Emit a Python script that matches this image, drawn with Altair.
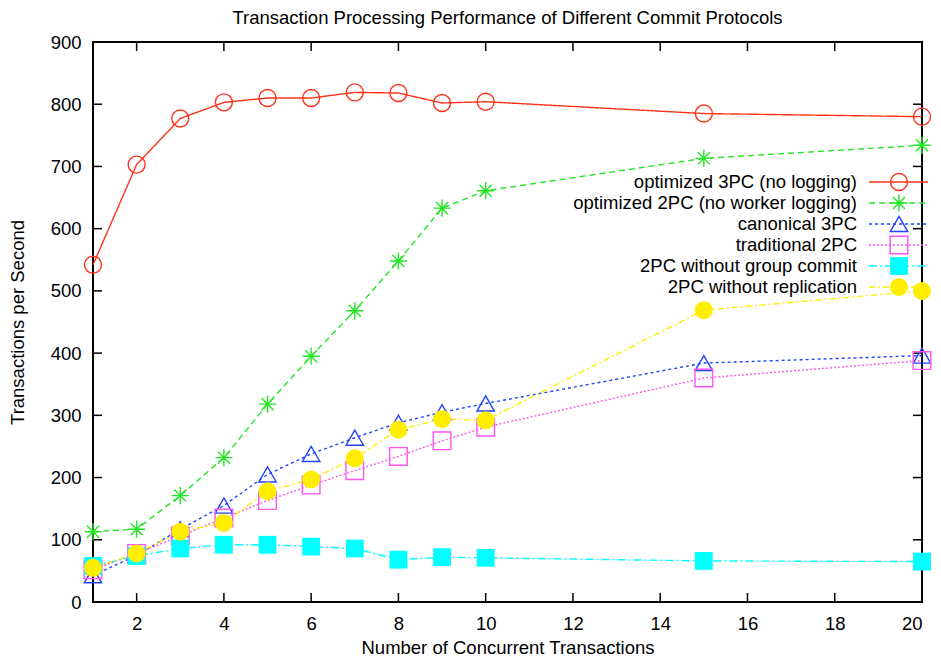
import altair as alt
import pandas as pd

# ---------------- data ----------------
x_values = [1, 2, 3, 4, 5, 6, 7, 8, 9, 10, 15, 20]
series_names = [
    "optimized 3PC (no logging)",
    "optimized 2PC (no worker logging)",
    "canonical 3PC",
    "traditional 2PC",
    "2PC without group commit",
    "2PC without replication",
]
opt3pc = [542, 703, 777, 803, 810, 810, 819, 818, 802, 804, 785, 780]
opt2pc = [113, 117, 171, 232, 318, 395, 468, 548, 633, 661, 713, 734]
canon3pc = [43, 75, 117, 155, 205, 238, 264, 288, 305, 319, 384, 396]
trad2pc = [52, 78, 106, 135, 163, 188, 211, 234, 259, 281, 360, 388]
nogroup = [58, 74, 86, 92, 92, 89, 86, 68, 72, 71, 66, 65]
norepl = [55, 78, 113, 127, 178, 197, 231, 277, 294, 292, 469, 500]
y_ticks = [0, 100, 200, 300, 400, 500, 600, 700, 800, 900]
x_ticks = [2, 4, 6, 8, 10, 12, 14, 16, 18, 20]

all_series = [opt3pc, opt2pc, canon3pc, trad2pc, nogroup, norepl]

rows = []
for name, vals in zip(series_names, all_series):
    for xv, yv in zip(x_values, vals):
        rows.append({"x": xv, "y": yv, "series": name})
df = pd.DataFrame(rows)

legend_df = pd.DataFrame({"series": series_names, "row": list(range(len(series_names)))})

# ---------------- styles ----------------
colors = ["#ff3218", "#22e622", "#2244ff", "#ff55ee", "#00ffff", "#ffee00"]
dashes = [[1, 0], [6, 4], [3, 3], [2, 2], [8, 3, 2, 3], [6, 3, 2, 3]]
asterisk = "M-1,0L1,0M0,-1L0,1M-0.7,-0.7L0.7,0.7M-0.7,0.7L0.7,-0.7"
shapes = ["circle", asterisk, "triangle-up", "square", "square", "circle"]
sizes = [289, 324, 324, 289, 289, 361]
open_series = series_names[:4]
filled_series = series_names[4:]

FONT = "Liberation Sans"
FS = 18.5
W, H = 829, 560

xscale = alt.Scale(domain=[1, 20], nice=False, zero=False)
yscale = alt.Scale(domain=[0, 900], nice=False)
color_enc = alt.Color("series:N", scale=alt.Scale(domain=series_names, range=colors), legend=None)
dash_enc = alt.StrokeDash("series:N", scale=alt.Scale(domain=series_names, range=dashes), legend=None)
shape_enc = alt.Shape("series:N", scale=alt.Scale(domain=series_names, range=shapes), legend=None)
size_enc = alt.Size("series:N", scale=alt.Scale(domain=series_names, range=sizes), legend=None)

X = alt.X("x:Q", scale=xscale,
          axis=alt.Axis(values=x_ticks, ticks=False, domain=False, grid=False,
                        labelPadding=12, title="Number of Concurrent Transactions",
                        titlePadding=6))
Y = alt.Y("y:Q", scale=yscale,
          axis=alt.Axis(values=y_ticks, ticks=False, domain=False, grid=False,
                        labelPadding=12, title="Transactions per Second",
                        titlePadding=23))

base = alt.Chart(df)
lines = base.mark_line(strokeWidth=1.4).encode(x=X, y=Y, color=color_enc, strokeDash=dash_enc)
pts_open = base.transform_filter(
    alt.FieldOneOfPredicate(field="series", oneOf=open_series)
).mark_point(filled=False, strokeWidth=1.4, opacity=1).encode(
    x="x:Q", y="y:Q", color=color_enc, shape=shape_enc, size=size_enc)
pts_filled = base.transform_filter(
    alt.FieldOneOfPredicate(field="series", oneOf=filled_series)
).mark_point(filled=True, opacity=1).encode(
    x="x:Q", y="y:Q", color=color_enc, shape=shape_enc, size=size_enc)

yt = alt.Chart(pd.DataFrame({"v": y_ticks}))
xt = alt.Chart(pd.DataFrame({"v": x_ticks}))
tick_style = dict(color="black", strokeWidth=1.5)
yt_left = yt.mark_rule(**tick_style).encode(
    y=alt.Y("v:Q", scale=yscale), x=alt.value(0), x2=alt.value(9))
yt_right = yt.mark_rule(**tick_style).encode(
    y=alt.Y("v:Q", scale=yscale), x=alt.value(W - 9), x2=alt.value(W))
xt_bottom = xt.mark_rule(**tick_style).encode(
    x=alt.X("v:Q", scale=xscale), y=alt.value(H), y2=alt.value(H - 9))
xt_top = xt.mark_rule(**tick_style).encode(
    x=alt.X("v:Q", scale=xscale), y=alt.value(0), y2=alt.value(9))

main = alt.layer(lines, yt_left, yt_right, xt_bottom, xt_top, pts_open, pts_filled)

# manual legend (labels right-aligned, samples to the right)
LY = alt.Y("row:Q", scale=alt.Scale(domain=[0, 5], range=[140, 245]), axis=None)
lg = alt.Chart(legend_df)
lg_text = lg.mark_text(align="right", baseline="middle", font=FONT, fontSize=FS,
                       color="black").encode(y=LY, x=alt.value(764), text="series:N")
lg_rule = lg.mark_rule(strokeWidth=1.4).encode(
    y=LY, x=alt.value(776), x2=alt.value(835), color=color_enc, strokeDash=dash_enc)
lg_open = lg.transform_filter(
    alt.FieldOneOfPredicate(field="series", oneOf=open_series)
).mark_point(filled=False, strokeWidth=1.4, opacity=1).encode(
    y=LY, x=alt.value(806), color=color_enc, shape=shape_enc, size=size_enc)
lg_filled = lg.transform_filter(
    alt.FieldOneOfPredicate(field="series", oneOf=filled_series)
).mark_point(filled=True, opacity=1).encode(
    y=LY, x=alt.value(806), color=color_enc, shape=shape_enc, size=size_enc)
legend = alt.layer(lg_text, lg_rule, lg_open, lg_filled)

chart = alt.layer(main, legend).resolve_scale(y="independent").properties(
    width=W, height=H,
    title=alt.TitleParams("Transaction Processing Performance of Different Commit Protocols",
                          font=FONT, fontSize=FS, fontWeight="normal", color="black",
                          anchor="middle", offset=6),
    autosize=alt.AutoSizeParams(type="none"),
    padding={"left": 85, "top": 34, "right": 11, "bottom": 55},
).configure_view(stroke="black", strokeWidth=2).configure_axis(
    labelFont=FONT, labelFontSize=FS, labelColor="black",
    titleFont=FONT, titleFontSize=FS, titleColor="black", titleFontWeight="normal",
)

chart.save("out.html", embed_options={"renderer": "svg", "actions": False})
